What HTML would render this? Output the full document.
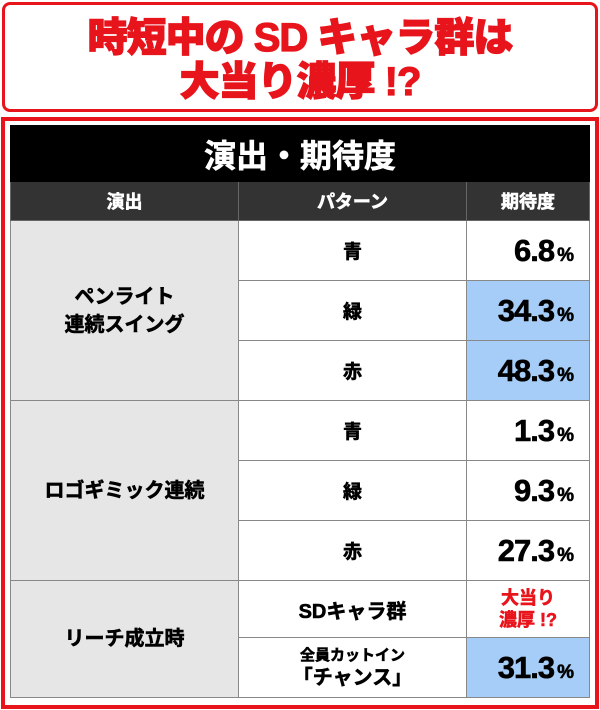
<!DOCTYPE html>
<html><head><meta charset="utf-8"><style>
body{margin:0;width:600px;height:710px;background:#fff;font-family:"Liberation Sans","Noto Sans CJK JP",sans-serif;font-weight:bold;position:relative;overflow:hidden}
.box1{position:absolute;left:2px;top:2px;width:590px;height:104px;border:3px solid #e8141c;border-radius:8px}
.t{position:absolute;left:0;width:600px;text-align:center;color:#e8141c;font-size:40px;line-height:44px;font-weight:900;letter-spacing:-1px;-webkit-text-stroke:1.2px #e8141c}
.box2{position:absolute;left:1px;top:117px;width:590px;height:584px;border:4px solid #e8141c}
table{position:absolute;left:10px;top:125px;border-collapse:collapse;width:580px}
td{border:1.5px solid #888;text-align:center;padding:0;-webkit-text-stroke:0.6px currentColor}
.tt{background:#000;color:#fff;font-size:32px;height:55px;border-color:#000}
.h td{background:#333;color:#fff;font-size:18px;height:38px;border-color:#666}
.g{background:#e6e6e6;font-size:20px;line-height:28px}
.p{font-size:19px}
.v{text-align:right;padding-right:16px;font-size:31px;letter-spacing:-1px}
.v small{font-size:19px;margin-left:3px}
.b{background:#a5cdf7}
</style></head><body>
<div class="box1"></div>
<div class="t" style="top:16px">時短中の SD キャラ群は</div>
<div class="t" style="top:60px">大当り濃厚 !?</div>
<div class="box2"></div>
<table>
<tr><td colspan="3" class="tt">演出・期待度</td></tr>
<tr class="h"><td style="width:227px">演出</td><td style="width:227px">パターン</td><td>期待度</td></tr>
<tr style="height:60px"><td rowspan="3" class="g">ペンライト<br>連続スイング</td><td class="p">青</td><td class="v">6.8<small>%</small></td></tr>
<tr style="height:60px"><td class="p">緑</td><td class="v b">34.3<small>%</small></td></tr>
<tr style="height:60px"><td class="p">赤</td><td class="v b">48.3<small>%</small></td></tr>
<tr style="height:60px"><td rowspan="3" class="g">ロゴギミック連続</td><td class="p">青</td><td class="v">1.3<small>%</small></td></tr>
<tr style="height:60px"><td class="p">緑</td><td class="v">9.3<small>%</small></td></tr>
<tr style="height:60px"><td class="p">赤</td><td class="v">27.3<small>%</small></td></tr>
<tr style="height:57px"><td rowspan="2" class="g">リーチ成立時</td><td class="p" style="font-size:20px">SDキャラ群</td><td style="color:#e8141c;font-size:18px;line-height:22px">大当り<br>濃厚 !?</td></tr>
<tr style="height:60px"><td style="font-size:15px;line-height:23px">全員カットイン<br><span style="font-size:20px">「チャンス」</span></td><td class="v b">31.3<small>%</small></td></tr>
</table>
</body></html>
